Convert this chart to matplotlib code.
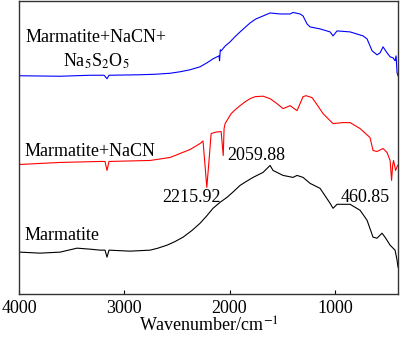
import matplotlib
matplotlib.use("Agg")
import matplotlib.pyplot as plt

plt.rcParams["font.family"] = ["Liberation Serif", "DejaVu Serif"]
plt.rcParams["mathtext.fontset"] = "stix"

# FTIR spectra, transmittance in arbitrary units (curves are offset)
wn_blue = [3990, 3610, 3325, 3192, 3164, 3145, 2850, 2708, 2565, 2470, 2375, 2280,
           2214, 2157, 2100, 2095, 2088, 2080, 2040, 1995, 1950, 1900, 1805, 1750,
           1682, 1615, 1520, 1425, 1397, 1330, 1302, 1264, 1235, 1140, 1045, 1017,
           979, 855, 732, 694, 646, 599, 570, 542, 504, 475, 447, 428, 418, 409, 400]
t_blue = [219, 218.5, 219.5, 219.5, 216, 219.5, 220, 220.5, 221.5, 223, 225, 228,
          232, 236, 239, 234, 245, 244, 249, 253, 258, 263, 272, 276,
          279, 282, 281, 281, 282.5, 281, 279, 271, 268, 266, 263, 259,
          264, 263, 259, 256, 244, 240, 242, 248, 242, 238, 237, 234, 239, 222, 219]

wn_red = [3990, 3800, 3610, 3420, 3230, 3183, 3164, 3145, 2945, 2755, 2565, 2470,
          2375, 2280, 2252, 2216, 2195, 2175, 2128, 2080, 2060, 2052, 2042, 1985,
          1940, 1900, 1850, 1805, 1758, 1682, 1615, 1549, 1492, 1425, 1359, 1302,
          1273, 1216, 1169, 1112, 1017, 922, 855, 760, 666, 637, 599, 542, 504,
          475, 461, 451, 442, 423, 404]
t_red = [130, 131, 132, 132.5, 133, 133, 124, 133, 133.5, 134, 137, 141,
         145, 151, 153.5, 107, 134, 161, 162.5, 163, 139, 166, 171, 181,
         185.5, 189, 193, 196, 198, 198.5, 196, 191, 186, 189, 184, 198,
         199, 197, 190, 181, 171, 172, 172, 166, 157, 144, 143, 146, 142,
         134, 114, 129, 134, 124, 129]

wn_black = [3990, 3800, 3610, 3449, 3325, 3230, 3183, 3164, 3145, 2945, 2755, 2680,
            2594, 2520, 2442, 2360, 2280, 2220, 2157, 2090, 2024, 1960, 1900, 1840,
            1777, 1720, 1682, 1615, 1587, 1492, 1397, 1359, 1302, 1235, 1140, 1045,
            1017, 979, 855, 760, 694, 637, 599, 552, 523, 475, 447, 428, 409, 400]
t_black = [42, 41, 42, 46, 45, 44, 44, 37, 44, 43, 44, 46,
           49, 52.5, 57, 63.5, 71, 78, 86, 92, 97, 103, 109, 113,
           117, 120, 122, 129, 124, 119, 117, 119, 117, 111, 106, 91,
           86, 90, 90, 84, 74, 57, 56, 61, 57, 49, 46, 44, 34, 27]

fig = plt.figure(figsize=(4.0, 3.37), dpi=100)
ax = fig.add_axes([0.0475, 0.1276, 0.9475, 0.8694])

ax.plot(wn_blue, t_blue, color="#0000ff", lw=0.8)
ax.plot(wn_red, t_red, color="#ff0000", lw=0.8)
ax.plot(wn_black, t_black, color="black", lw=0.8)

ax.set_xlim(4000, 400)
ax.set_ylim(0, 294)
ax.set_xticks([4000, 3000, 2000, 1000])
ax.set_yticks([])
ax.tick_params(axis="x", direction="in", length=3, labelsize=13, pad=4)
for s in ax.spines.values():
    s.set_linewidth(1.0)
    s.set_color("#333333")
ax.set_xlabel("Wavenumber/cm$^{-1}$", fontsize=13, labelpad=0)

fs = 13
ax.text(3268, 257, "Marmatite+NaCN+", fontsize=fs, ha="center", va="center")
ax.text(3268, 234, "Na$_5$S$_2$O$_5$", fontsize=fs, ha="center", va="center")
ax.text(3943, 143, "Marmatite+NaCN", fontsize=fs, ha="left", va="center")
ax.text(2024, 139, "2059.88", fontsize=fs, ha="left", va="center")
ax.text(2641, 97, "2215.92", fontsize=fs, ha="left", va="center")
ax.text(475, 97, "460.85", fontsize=fs, ha="right", va="center")
ax.text(3943, 59, "Marmatite", fontsize=fs, ha="left", va="center")

fig.savefig("out.png", dpi=100)
